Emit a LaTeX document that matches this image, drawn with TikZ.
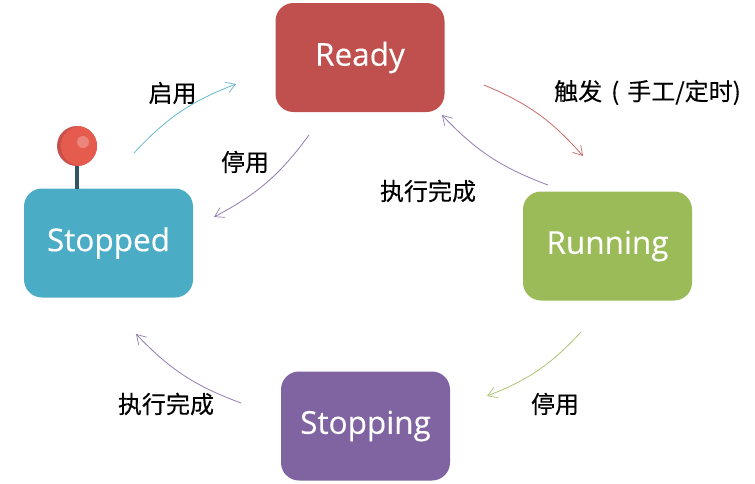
\documentclass[tikz,border=0pt]{standalone}
\usepackage{fontspec}
\setmainfont{Open Sans}[FakeBold=0.25]
\newfontfamily\cjk{Noto Sans CJK SC}[FakeBold=0.25]
\usetikzlibrary{arrows.meta}
\definecolor{cReady}{HTML}{C0504D}
\definecolor{cRun}{HTML}{9BBB59}
\definecolor{cStop}{HTML}{8064A2}
\definecolor{cOff}{HTML}{4BACC6}
\definecolor{pinstem}{HTML}{2F5566}
\definecolor{ballmain}{HTML}{E55B4E}
\definecolor{ballshade}{HTML}{C9504A}
\definecolor{ballshine}{HTML}{EC857B}
\tikzset{
  state/.style={rectangle,rounded corners=18pt,minimum width=169pt,minimum height=109pt,inner sep=0pt,text=white,font=\fontsize{31.5}{32}\selectfont},
  flow/.style={line width=0.8pt,-{Straight Barb[length=9pt,width=11pt,line width=0.7pt]}},
  lab/.style={inner sep=0pt,text=black,font=\cjk\fontsize{24}{24}\selectfont}
}
\begin{document}
\begin{tikzpicture}[x=1pt,y=-1pt]
\useasboundingbox (0,0) rectangle (755,483);
\node[state,fill=cReady] (ready) at (360,57.5) {\raisebox{-2pt}{Ready}};
\node[state,fill=cRun] (running) at (607.5,246) {\raisebox{-2pt}{Running}};
\node[state,fill=cStop] (stopping) at (365.5,426) {\raisebox{-2pt}{Stopping}};
\node[state,fill=cOff] (stopped) at (108.5,243) {\raisebox{-2pt}{Stopped}};
% pin
\coordinate (pinbase) at (77,189);
\coordinate (pincentre) at (77,146);
\draw[line width=4.5pt,draw=pinstem] (pincentre) -- (pinbase);
\fill[ballshade] (pincentre) circle (20pt);
\begin{scope}
\clip (pincentre) circle (20pt);
\fill[ballmain] (81,146) circle (20pt);
\end{scope}
\fill[ballshine] (83,142) circle (6pt);
% connector ends
\coordinate (a1) at (134,153); \coordinate (a2) at (236,84);
\coordinate (b1) at (309,135); \coordinate (b2) at (214,217);
\coordinate (c1) at (484,85);  \coordinate (c2) at (583,156);
\coordinate (d1) at (548,185); \coordinate (d2) at (442,115);
\coordinate (e1) at (581,332); \coordinate (e2) at (487,396);
\coordinate (f1) at (241,403); \coordinate (f2) at (136,334);
\draw[flow,cOff!85!white] (a1) to[bend left=13] (a2);
\draw[flow,cStop!85!white] (b1) to[bend left=13] (b2);
\draw[flow,cReady!85!white] (c1) to[bend left=13] (c2);
\draw[flow,cStop!85!white] (d1) to[bend left=13] (d2);
\draw[flow,cRun!85!white] (e1) to[bend left=13] (e2);
\draw[flow,cStop!85!white] (f1) to[bend left=13] (f2);
% labels
\node[lab] (l1) at (172.5,93) {启用};
\node[lab] (l2) at (245,162) {停用};
\node[lab,anchor=west] (l3) at (554,92.5) {触发\hspace{9pt}(\hspace{8pt}手工/定时)};
\node[lab] (l4) at (428,191) {执行完成};
\node[lab] (l5) at (555,404) {停用};
\node[lab] (l6) at (166,404) {执行完成};
\end{tikzpicture}
\end{document}
